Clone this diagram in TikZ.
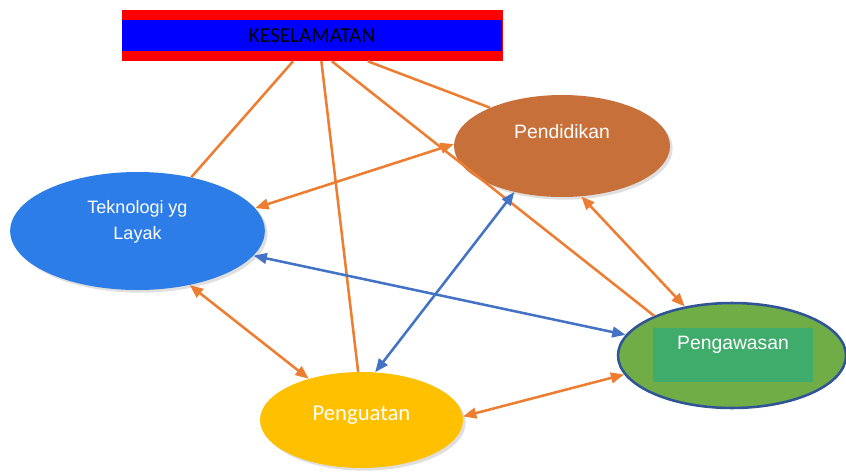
\documentclass[tikz,border=0pt]{standalone}
\usepackage{fontspec}
\setmainfont{Liberation Sans}
\newfontfamily\calibri{Carlito}
\usetikzlibrary{shapes.geometric, arrows.meta, shadows}
\definecolor{oranye}{HTML}{ED7D31}
\definecolor{birupanah}{HTML}{4472C4}
\definecolor{warnatek}{HTML}{2D7DE8}
\definecolor{warnadidik}{HTML}{C8703A}
\definecolor{warnaawas}{HTML}{70AD47}
\definecolor{garisawas}{HTML}{2F5597}
\definecolor{warnakotak}{HTML}{40AC6C}
\definecolor{warnakuat}{HTML}{FFC000}
\tikzstyle{kotak} = [rectangle, fill=red, inner sep=0pt, minimum width=285.75pt, minimum height=38.25pt]
\tikzstyle{pita} = [rectangle, fill=blue, inner sep=0pt, minimum width=285pt, minimum height=23.25pt, font=\calibri\fontsize{16}{18}\selectfont]
\tikzstyle{elips} = [ellipse, inner sep=0pt, drop shadow={opacity=0.25, shadow xshift=2pt, shadow yshift=-2pt}]
\tikzstyle{teks} = [text=white, align=center, font=\fontsize{14.5}{20}\selectfont]
\tikzstyle{garis} = [draw=oranye, line width=1.9pt]
\tikzstyle{panah} = [garis, {Triangle[length=10pt,width=8pt]}-{Triangle[length=10pt,width=8pt]}]
\tikzstyle{panahbiru} = [panah, draw=birupanah]
\begin{document}
\begin{tikzpicture}[x=0.75pt, y=-0.75pt]
	\useasboundingbox (0,0) rectangle (846,475);
	% judul
	\node[kotak] (kes) at (312.5,35.5) {};
	\node[pita] (pita) at (312,35.5) {KESELAMATAN};
	% elips
	\node[elips, fill=warnatek, minimum width=191pt, minimum height=88.5pt,
		label={[teks, font=\fontsize{13.5}{20}\selectfont, yshift=6.75pt]center:{Teknologi yg\\Layak}}] (tek) at (137.5,231) {};
	\node[elips, fill=warnadidik, minimum width=162pt, minimum height=76.5pt,
		label={[teks, yshift=10.5pt]center:Pendidikan}] (didik) at (562,146) {};
	\node[ellipse, inner sep=0pt, fill=warnaawas, draw=garisawas, line width=1.9pt, minimum width=171pt, minimum height=78.75pt] (awas) at (732,355.5) {};
	\node[rectangle, fill=warnakotak, inner sep=0pt, minimum width=120pt, minimum height=40.5pt,
		label={[teks, yshift=7.9pt]center:Pengawasan}] (kotakawas) at (733,355) {};
	\node[elips, fill=warnakuat, minimum width=152.25pt, minimum height=72pt,
		label={[teks, font=\calibri\fontsize{17}{20}\selectfont, yshift=3.75pt]center:Penguatan}] (kuat) at (361.5,420) {};
	% garis dari judul
	\draw[garis] (kes.233) -- (tek.45);
	\draw[garis] (kes.289) -- (kuat.94);
	\draw[garis] (kes.307) -- (awas.153);
	\draw[garis] (kes.335) -- (didik.152);
	% panah dua arah
	\draw[panah] (tek.11) -- (didik.179);
	\draw[panahbiru] (tek.348) -- (awas.169);
	\draw[panah] (tek.314) -- (kuat.142);
	\draw[panahbiru] (didik.224) -- (kuat.74);
	\draw[panah] (didik.291) -- (awas.134);
	\draw[panah] (kuat.2) -- (awas.190);
\end{tikzpicture}
\end{document}
